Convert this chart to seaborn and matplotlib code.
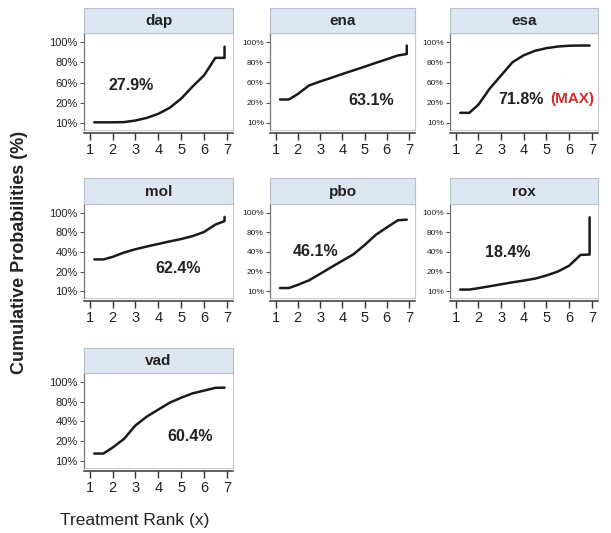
import matplotlib
matplotlib.use("Agg")
import matplotlib.pyplot as plt
import seaborn as sns
import pandas as pd

sns.set_theme(style="white")
plt.rcParams['font.family'] = ['Liberation Sans', 'DejaVu Sans']

# ---- data (y in rank-scale units: 0=10%, 1=20%, 2=40/60%, 3=80%, 4=100%) ----
drugs = ["dap", "ena", "esa", "mol", "pbo", "rox", "vad"]
rank_x = [1.2, 1.6, 2.0, 2.5, 3.0, 3.5, 4.0, 4.5, 5.0, 5.5, 6.0, 6.5, 6.9, 6.9]
dap = [0.03, 0.03, 0.03, 0.04, 0.12, 0.25, 0.45, 0.75, 1.2, 1.8, 2.35, 3.22, 3.22, 3.77]
ena = [1.16, 1.16, 1.43, 1.85, 2.05, 2.23, 2.42, 2.6, 2.78, 2.97, 3.15, 3.34, 3.41, 3.83]
esa = [0.5, 0.5, 0.9, 1.7, 2.35, 3.0, 3.35, 3.57, 3.7, 3.78, 3.82, 3.83, 3.83, 3.83]
mol = [1.62, 1.62, 1.75, 1.97, 2.14, 2.28, 2.41, 2.54, 2.66, 2.81, 3.02, 3.4, 3.58, 3.79]
pbo = [0.16, 0.16, 0.32, 0.55, 0.88, 1.22, 1.55, 1.88, 2.35, 2.87, 3.25, 3.62, 3.65, 3.65]
rox = [0.08, 0.08, 0.15, 0.25, 0.35, 0.45, 0.54, 0.64, 0.8, 1.0, 1.3, 1.85, 1.87, 3.77]
vad = [0.38, 0.38, 0.68, 1.12, 1.8, 2.25, 2.6, 2.95, 3.2, 3.42, 3.56, 3.7, 3.71, 3.71]
series = {"dap": dap, "ena": ena, "esa": esa, "mol": mol, "pbo": pbo, "rox": rox, "vad": vad}

sucra = ["27.9%", "63.1%", "71.8%", "62.4%", "46.1%", "18.4%", "60.4%"]
label_x = [2.8, 5.3, 2.89, 4.85, 2.78, 3.3, 5.39]
label_y = [1.85, 1.1, 1.16, 1.18, 2.0, 1.95, 1.23]
ytick_a = ["10%", "20%", "60%", "80%", "100%"]
ytick_b = ["10%", "20%", "40%", "80%", "100%"]
ytick_sets = [ytick_a, ytick_a, ytick_a, ytick_b, ytick_b, ytick_b, ytick_b]
xticks = [1, 2, 3, 4, 5, 6, 7]

rows = []
for d in drugs:
    for i, (xv, yv) in enumerate(zip(rank_x, series[d])):
        rows.append({"drug": d, "order": i, "rank": xv, "cum": yv})
df = pd.DataFrame(rows)

W, H = 611, 533
fig = plt.figure(figsize=(W / 100, H / 100), dpi=100)
cols_px = [(84, 233), (270, 415), (450, 598)]
rows_px = [(33, 130), (204, 298), (373, 468)]
strip_top = [8, 178, 348]

for i, d in enumerate(drugs):
    r, c = divmod(i, 3)
    l, rr = cols_px[c]
    t, b = rows_px[r]
    ax = fig.add_axes([l / W, 1 - b / H, (rr - l) / W, (b - t) / H])
    sub = df[df["drug"] == d]
    sns.lineplot(data=sub, x="rank", y="cum", ax=ax, estimator=None, sort=False,
                 color="#1a1a1a", lw=1.8)
    ax.set_xlim(0.75, 7.27)
    ax.set_ylim(-0.35, 4.45)
    ax.set_xticks(xticks)
    ax.set_xticklabels([str(v) for v in xticks])
    ax.set_yticks(range(5))
    ax.set_yticklabels(ytick_sets[i])
    ax.set_xlabel("")
    ax.set_ylabel("")
    for s in ["top", "right"]:
        ax.spines[s].set_color("#c8c8c8")
        ax.spines[s].set_linewidth(0.8)
    ax.spines["left"].set_color("#777777")
    ax.spines["left"].set_linewidth(0.9)
    ax.spines["bottom"].set_color("#333333")
    ax.spines["bottom"].set_linewidth(1.1)
    ax.spines["bottom"].set_position(("outward", 2))
    ax.axhline(-0.35, color="#c8c8c8", lw=0.8, clip_on=False)
    ysize = 8 if c == 0 else 6
    ax.tick_params(axis="y", left=True, length=3, width=0.8, color="#555555",
                   labelsize=ysize, pad=1.5, labelcolor="#222222")
    ax.tick_params(axis="x", bottom=True, length=5, width=1.0, color="#333333",
                   labelsize=10.5, pad=2, labelcolor="#222222")
    ax.text(label_x[i], label_y[i], sucra[i], ha="left" if d == "esa" else "center",
            va="center", fontsize=11.5, fontweight="bold", color="#222222")
    if d == "esa":
        ax.text(5.17, label_y[i], "(MAX)", ha="left", va="center", fontsize=11,
                fontweight="bold", color="#d42a2a")
    # strip header
    st = strip_top[r]
    sax = fig.add_axes([l / W, 1 - t / H, (rr - l) / W, (t - st) / H])
    sax.set_facecolor("#dde7f2")
    sax.set_xticks([])
    sax.set_yticks([])
    for s in sax.spines.values():
        s.set_color("#b8c2cc")
        s.set_linewidth(0.8)
    sax.text(0.5, 0.48, d, ha="center", va="center", fontsize=11,
             fontweight="bold", color="#222222", transform=sax.transAxes)

fig.text(20 / W, 1 - 252 / H, "Cumulative Probabilities (%)", rotation=90,
         ha="center", va="center", fontsize=13, fontweight="bold", color="#222222")
fig.text(60 / W, 1 - 520 / H, "Treatment Rank (x)", ha="left", va="center",
         fontsize=12.5, color="#222222")

fig.savefig("out.png", dpi=100)
